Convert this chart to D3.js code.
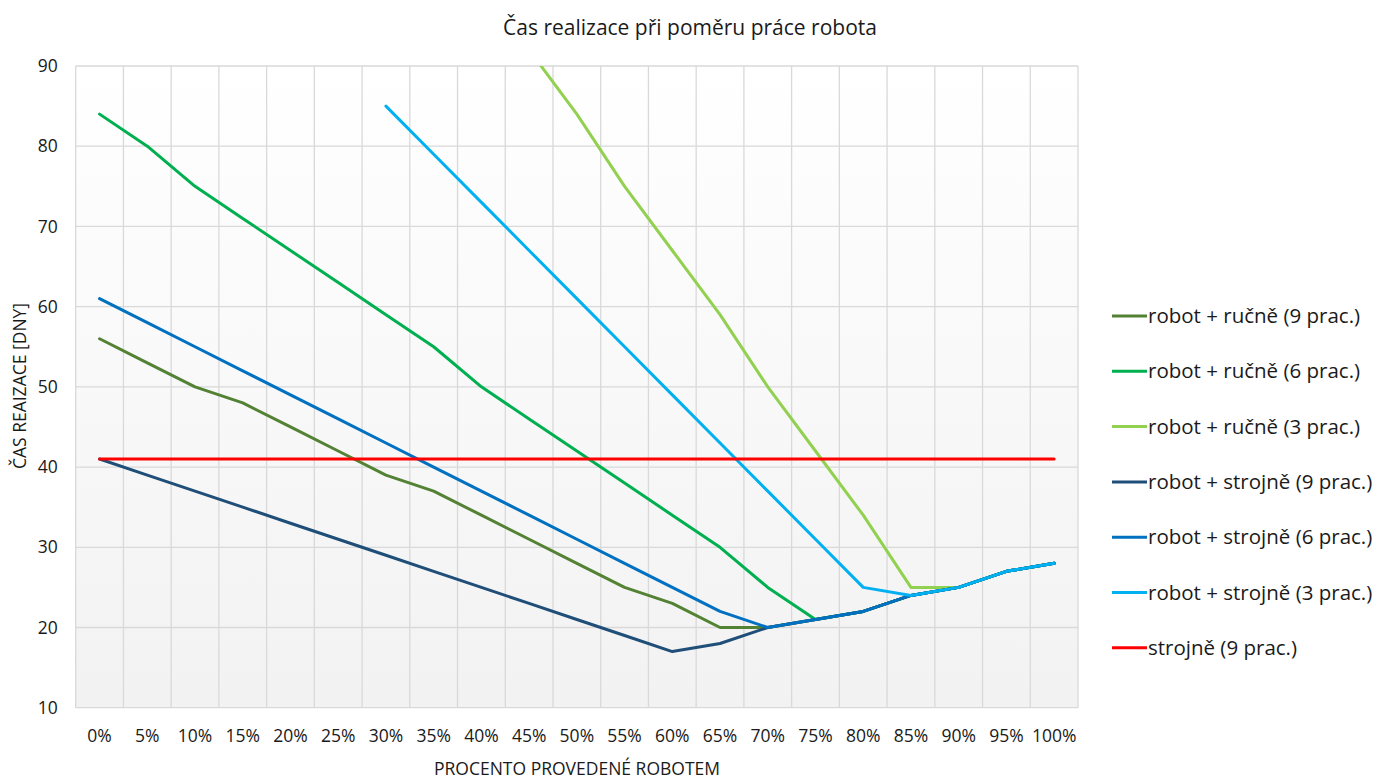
<!DOCTYPE html>
<html>
<head>
<meta charset="utf-8">
<script src="https://cdn.jsdelivr.net/npm/d3@7/dist/d3.min.js"></script>
<style>
  html, body { margin: 0; padding: 0; background: #ffffff; }
  svg { display: block; }
  text { font-family: "Open Sans", "Noto Sans", sans-serif; fill: #1a1a1a; }
</style>
</head>
<body>
<svg id="chart" width="1392" height="781"></svg>
<script>
// Share of work done by the robot (x categories)
const categories = ["0%","5%","10%","15%","20%","25%","30%","35%","40%","45%","50%",
                    "55%","60%","65%","70%","75%","80%","85%","90%","95%","100%"];

// Completion time in days for each setup (null = not plotted)
const rucne9   = [56,53,50,48,45,42,39,37,34,31,28,25,23,20,20,21,22,24,25,27,28];
const rucne6   = [84,80,75,71,67,63,59,55,50,46,42,38,34,30,25,21,22,24,25,27,28];
const rucne3   = [null,null,null,null,null,null,null,null,null,92,84,75,67,59,50,42,34,25,25,27,28];
const strojne9 = [41,39,37,35,33,31,29,27,25,23,21,19,17,18,20,21,22,24,25,27,28];
const strojne6 = [61,58,55,52,49,46,43,40,37,34,31,28,25,22,20,21,22,24,25,27,28];
const strojne3 = [null,null,null,null,null,null,85,79,73,67,61,55,49,43,37,31,25,24,25,27,28];
const strojneOnly9 = [41,41,41,41,41,41,41,41,41,41,41,41,41,41,41,41,41,41,41,41,41];

const yTicks = [10,20,30,40,50,60,70,80,90];

const seriesNames = [
  "robot + ručně (9 prac.)",
  "robot + ručně (6 prac.)",
  "robot + ručně (3 prac.)",
  "robot + strojně (9 prac.)",
  "robot + strojně (6 prac.)",
  "robot + strojně (3 prac.)",
  "strojně (9 prac.)"
];
const seriesColors = ["#548235","#00B050","#92D050","#1F4E79","#0070C0","#00B0F0","#FF0000"];
const seriesValues = [rucne9, rucne6, rucne3, strojne9, strojne6, strojne3, strojneOnly9];

const svg = d3.select("#chart");
const plot = { left: 75.7, top: 66, right: 1078, bottom: 707.7 };

const x = d3.scaleBand().domain(categories).range([plot.left, plot.right]).padding(0);
const xc = d => x(d) + x.bandwidth() / 2;
const y = d3.scaleLinear().domain([10, 90]).range([plot.bottom, plot.top]);

// plot area background gradient
const defs = svg.append("defs");
const grad = defs.append("linearGradient").attr("id", "plotBg")
  .attr("x1", 0).attr("y1", 0).attr("x2", 0).attr("y2", 1);
grad.append("stop").attr("offset", "0%").attr("stop-color", "#ffffff");
grad.append("stop").attr("offset", "100%").attr("stop-color", "#f2f2f2");
defs.append("clipPath").attr("id", "plotClip").append("rect")
  .attr("x", plot.left).attr("y", plot.top)
  .attr("width", plot.right - plot.left).attr("height", plot.bottom - plot.top);

svg.append("rect")
  .attr("x", plot.left).attr("y", plot.top)
  .attr("width", plot.right - plot.left).attr("height", plot.bottom - plot.top)
  .attr("fill", "url(#plotBg)");

// gridlines
const grid = svg.append("g").attr("stroke", "#d9d9d9").attr("stroke-width", 1.3);
grid.selectAll("line.h").data(yTicks).join("line")
  .attr("x1", plot.left).attr("x2", plot.right)
  .attr("y1", d => y(d)).attr("y2", d => y(d));
const xEdges = categories.map(c => x(c)).concat([plot.right]);
grid.selectAll("line.v").data(xEdges).join("line")
  .attr("x1", d => d).attr("x2", d => d)
  .attr("y1", plot.top).attr("y2", plot.bottom);

// y axis labels
const yAxis = d3.axisLeft(y).tickValues(yTicks).tickSize(0).tickPadding(0);
const gy = svg.append("g").attr("transform", `translate(${plot.left - 18},0)`).call(yAxis);
gy.select(".domain").remove();
gy.selectAll("text").attr("font-size", 17.5).attr("font-family", "Open Sans, sans-serif").attr("fill", "#1a1a1a");

// x axis labels
const xAxis = d3.axisBottom(x).tickSize(0).tickPadding(0);
const gx = svg.append("g").attr("transform", `translate(0,${plot.bottom + 22})`).call(xAxis);
gx.select(".domain").remove();
gx.selectAll("text").attr("font-size", 17.5).attr("font-family", "Open Sans, sans-serif").attr("fill", "#1a1a1a");

// series lines
const line = d3.line()
  .defined(d => d.v != null)
  .x(d => xc(d.c))
  .y(d => y(d.v));

const lines = svg.append("g").attr("clip-path", "url(#plotClip)");
seriesValues.forEach((vals, i) => {
  lines.append("path")
    .datum(vals.map((v, j) => ({ c: categories[j], v })))
    .attr("d", line)
    .attr("fill", "none")
    .attr("stroke", seriesColors[i])
    .attr("stroke-width", 3)
    .attr("stroke-linejoin", "round")
    .attr("stroke-linecap", "round");
});

// title
svg.append("text")
  .attr("x", 690).attr("y", 35)
  .attr("text-anchor", "middle")
  .attr("font-size", 21)
  .text("Čas realizace při poměru práce robota");

// axis titles
svg.append("text")
  .attr("x", 577).attr("y", 775)
  .attr("text-anchor", "middle")
  .attr("font-size", 17.5)
  .text("PROCENTO PROVEDENÉ ROBOTEM");

svg.append("text")
  .attr("transform", "translate(26,386) rotate(-90)")
  .attr("text-anchor", "middle")
  .attr("font-size", 17.5)
  .text("ČAS REAIZACE [DNY]");

// legend
const legend = svg.append("g").attr("transform", "translate(1112,316)");
const items = legend.selectAll("g").data(seriesNames).join("g")
  .attr("transform", (d, i) => `translate(0,${i * 55.3})`);
items.append("line")
  .attr("x1", 0).attr("x2", 35).attr("y1", 0).attr("y2", 0)
  .attr("stroke", (d, i) => seriesColors[i])
  .attr("stroke-width", 3);
items.append("text")
  .attr("x", 36).attr("y", 0).attr("dy", "0.35em")
  .attr("font-size", 20.5)
  .text(d => d);
</script>
</body>
</html>
